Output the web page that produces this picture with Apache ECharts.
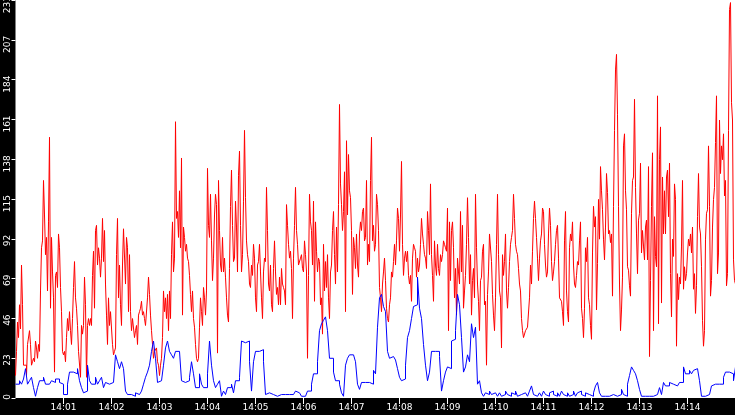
<!DOCTYPE html>
<html>
<head>
<meta charset="utf-8">
<script src="https://cdn.jsdelivr.net/npm/echarts@6/dist/echarts.min.js"></script>
<style>
html,body{margin:0;padding:0;background:#000;}
#chart{width:735px;height:415px;}
</style>
</head>
<body>
<div id="chart"></div>
<script>
// x axis: seconds after 14:00:00
const xStartSeconds = 0;
const xEndSeconds = 900;
const xTickSeconds = 60;
const xTickLabels = ['14:00','14:01','14:02','14:03','14:04','14:05','14:06','14:07','14:08','14:09','14:10','14:11','14:12','14:13','14:14','14:15'];

// y axis
const yMax = 230.5;
const yTickStep = 23.05;

// red series: one sample every 1.25 s (48 per minute), plus closing value at 14:15
const redStepSeconds = 1.25;
const redValues = [
  13,27,44,35,54,40,77,54,19,19,19,13,31,31,39,31,19,21,23,21,33,29,23,31,27,62,87,91,126,106,83,93,62,102,151,52,93,73,58,15,71,73,64,95,87,64,50,27,
  25,27,21,35,46,39,50,39,31,46,64,79,58,52,42,27,27,12,42,37,42,70,54,12,42,46,42,46,42,71,85,52,97,100,77,87,81,70,81,104,79,97,66,48,31,58,42,50,
  50,31,25,27,29,83,104,58,77,54,42,77,98,98,66,93,87,50,83,50,39,46,46,35,39,42,31,48,50,52,56,48,50,46,42,41,58,70,60,48,39,31,23,27,27,29,21,19,
  13,19,23,35,62,50,58,46,60,39,62,46,83,102,73,81,160,104,108,93,120,87,139,48,99,93,85,89,81,79,71,60,50,62,46,41,31,23,21,23,41,58,50,42,64,58,48,62,
  133,100,93,118,91,68,81,106,118,112,26,126,97,77,73,93,73,81,70,58,48,44,75,111,132,100,79,81,114,99,73,129,143,100,73,83,114,155,116,91,83,79,66,64,77,71,89,81,
  58,50,77,79,89,73,58,46,73,81,79,122,97,66,62,77,54,50,75,91,73,60,64,54,70,54,75,66,64,62,54,112,100,89,81,85,75,46,81,100,122,97,89,77,77,81,83,75,
  73,91,83,73,23,71,118,102,97,77,114,56,102,85,73,81,79,54,58,37,89,62,79,64,83,58,46,73,77,97,108,83,66,99,73,112,170,124,112,97,108,131,50,149,106,141,120,116,
  97,60,93,87,75,95,77,70,95,102,97,108,110,91,93,126,77,89,79,126,151,91,100,85,89,118,112,97,64,58,50,66,73,81,68,52,46,44,54,58,73,70,79,89,77,91,110,104,
  85,106,137,89,71,81,85,79,85,71,66,71,56,81,89,87,85,70,81,73,77,89,104,95,89,83,81,75,108,97,83,124,83,71,56,91,77,71,89,75,71,83,79,83,91,89,87,85,
  110,39,102,68,97,102,87,58,75,48,81,73,66,108,73,100,52,62,71,89,116,93,66,83,48,68,75,58,118,87,66,56,39,68,70,85,89,54,56,19,60,73,95,95,79,60,48,39,
  58,89,118,83,62,58,29,83,71,79,95,62,52,64,79,89,93,97,118,104,89,85,83,75,66,62,46,39,35,35,39,39,41,42,58,77,66,85,104,114,104,93,81,68,81,91,95,110,
  108,89,77,70,73,95,110,100,79,68,73,79,89,97,100,81,58,58,56,50,42,91,108,62,50,44,87,95,91,102,77,66,64,71,79,77,91,102,52,46,35,52,87,79,93,58,54,42,
  34,84,111,99,105,51,78,115,92,134,120,109,92,80,99,130,119,95,97,90,95,59,111,155,190,199,164,111,66,39,51,70,146,153,120,109,76,74,65,59,107,126,128,173,122,95,72,103,
  107,136,84,97,88,80,99,103,80,134,24,68,111,142,39,105,82,76,175,43,138,157,55,128,95,120,95,128,132,105,136,72,47,92,82,124,115,30,72,57,70,66,88,126,63,76,68,72,
  84,92,88,95,84,99,63,72,49,65,105,130,99,95,76,45,30,39,92,107,109,146,111,59,68,99,115,122,148,175,72,84,161,130,146,138,153,117,126,65,72,155,225,229,171,161,80,68,
  66
];

// blue series: one sample every 2.5 s (24 per minute), plus closing value at 14:15
const blueStepSeconds = 2.5;
const blueValues = [
  8,8,10,8,11,17,8,10,12,6,1,6,10,10,12,8,8,8,10,9,11,11,9,8,
  2,2,8,15,15,15,14,17,10,6,3,4,19,10,8,8,12,8,10,12,6,9,8,8,
  9,10,25,21,17,21,17,4,2,2,2,1,3,2,2,4,8,12,15,19,27,33,23,9,
  10,10,19,29,33,27,25,23,27,27,27,10,9,10,10,12,21,14,6,6,14,8,6,6,
  14,33,19,10,6,8,10,1,4,2,6,6,8,3,10,10,12,33,32,33,33,21,4,21,
  27,27,27,28,21,2,3,4,2,2,1,1,2,1,2,1,2,1,2,3,4,3,2,1,
  1,1,4,4,8,14,14,21,39,43,45,47,39,23,23,15,10,10,8,3,1,19,23,25,
  25,24,21,8,5,9,9,9,9,10,8,16,14,41,58,60,53,50,27,23,24,23,22,17,
  12,10,11,19,35,39,46,53,54,70,52,46,31,19,10,15,27,27,26,27,24,4,10,15,
  18,17,33,34,39,60,54,35,15,18,25,21,43,35,41,8,10,3,1,3,2,4,2,3,
  2,1,3,1,2,4,2,1,3,2,4,1,2,1,3,2,1,4,7,2,1,2,3,1,
  4,2,1,3,4,2,1,3,1,4,2,1,3,1,2,4,1,3,4,2,1,3,2,1,
  1,3,7,9,3,1,1,1,1,1,2,3,1,1,2,5,2,1,8,13,18,16,14,10,
  5,1,1,2,1,2,1,1,2,1,6,2,9,7,7,9,8,8,7,8,9,9,18,14,
  14,16,14,16,17,16,10,1,1,1,2,3,7,8,8,8,8,8,12,15,15,16,14,10,
  18
];

const redData = redValues.map((v, i) => [xStartSeconds + i * redStepSeconds, v]);
const blueData = blueValues.map((v, i) => [xStartSeconds + i * blueStepSeconds, v]);

const chart = echarts.init(document.getElementById('chart'));
const labelFont = 'DejaVu Sans';
chart.setOption({
  animation: false,
  backgroundColor: '#000000',
  grid: {
    left: 15.5, right: -0.5, top: 0, bottom: 17,
    outerBoundsMode: 'none', containLabel: false,
    show: true, backgroundColor: '#ffffff', borderWidth: 0
  },
  xAxis: {
    type: 'value',
    min: xStartSeconds, max: xEndSeconds, interval: xTickSeconds,
    axisLine: { show: false },
    axisTick: { show: true, length: 6, lineStyle: { color: '#ffffff', width: 1 } },
    splitLine: { show: false },
    axisLabel: {
      show: true, showMinLabel: false, showMaxLabel: false,
      color: '#ffffff', fontFamily: labelFont, fontSize: 9, margin: 5,
      formatter: v => xTickLabels[Math.round(v / xTickSeconds)]
    }
  },
  yAxis: {
    type: 'value',
    min: 0, max: yMax, interval: yTickStep,
    axisLine: { show: false },
    axisTick: { show: true, length: 4, lineStyle: { color: '#ffffff', width: 1 } },
    splitLine: { show: false },
    axisLabel: {
      show: true, showMinLabel: true, showMaxLabel: true,
      rotate: 90, align: 'right', verticalAlign: 'middle',
      padding: [0, -4, 0, 0],
      color: '#ffffff', fontFamily: labelFont, fontSize: 9, margin: 8,
      formatter: v => String(Math.round(v))
    }
  },
  series: [
    {
      type: 'line', data: redData, step: 'end', showSymbol: false,
      lineStyle: { color: '#ff0000', width: 1 }, itemStyle: { color: '#ff0000' }
    },
    {
      type: 'line', data: blueData, step: 'end', showSymbol: false,
      lineStyle: { color: '#0000ff', width: 1 }, itemStyle: { color: '#0000ff' }
    }
  ]
});
</script>
</body>
</html>
